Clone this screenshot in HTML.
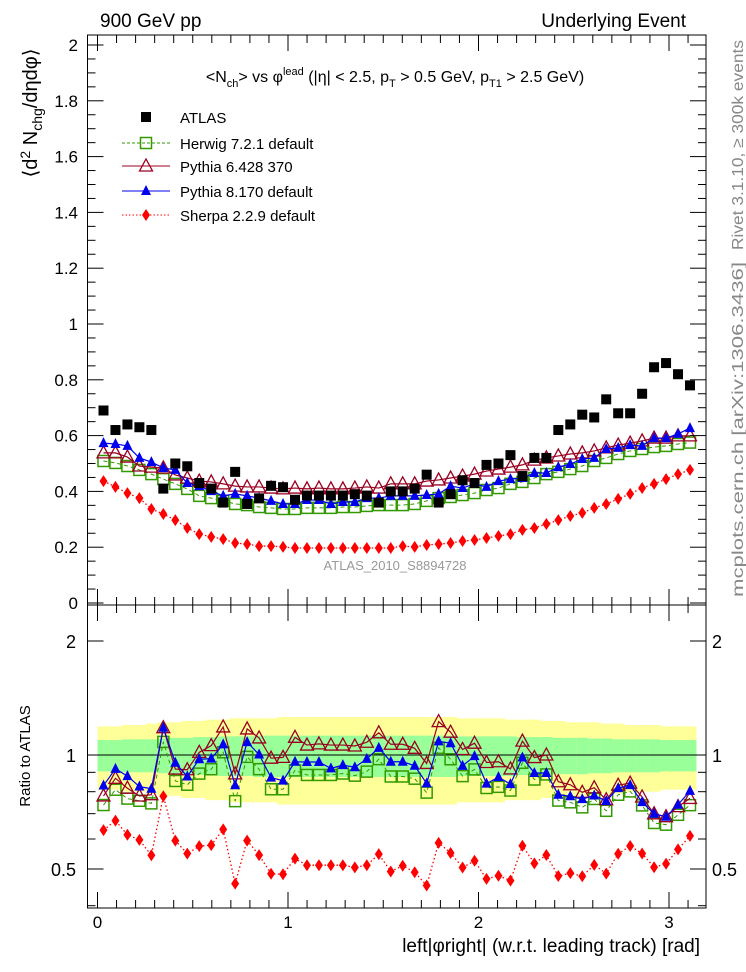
<!DOCTYPE html>
<html><head><meta charset="utf-8"><style>
body{margin:0;background:#fff}
svg{display:block;font-family:"Liberation Sans",sans-serif}
</style></head><body>
<svg id="c" width="746" height="972" viewBox="0 0 746 972" xmlns="http://www.w3.org/2000/svg">
<text x="100" y="27" font-size="19">900 GeV pp</text>
<text x="686" y="27" font-size="19" text-anchor="end">Underlying Event</text>
<text x="395" y="82" font-size="16" text-anchor="middle">&lt;N<tspan font-size="11" dy="5">ch</tspan><tspan dy="-5">&gt; vs φ</tspan><tspan font-size="11" dy="-7">lead</tspan><tspan dy="7"> (|η| &lt; 2.5, p</tspan><tspan font-size="11" dy="5">T</tspan><tspan dy="-5"> &gt; 0.5 GeV, p</tspan><tspan font-size="11" dy="5">T1</tspan><tspan dy="-5"> &gt; 2.5 GeV)</tspan></text>
<text transform="translate(37,113) rotate(-90)" font-size="20" text-anchor="middle">⟨d<tspan font-size="14" dy="-7">2</tspan><tspan dy="7"> N</tspan><tspan font-size="14" dy="5">chg</tspan><tspan dy="-5">/dηdφ⟩</tspan></text>
<text transform="translate(30,756) rotate(-90)" font-size="15" text-anchor="middle">Ratio to ATLAS</text>
<text transform="translate(743,250) rotate(-90)" font-size="16" fill="#888" textLength="210" lengthAdjust="spacingAndGlyphs">Rivet 3.1.10, ≥ 300k events</text>
<text transform="translate(743,597) rotate(-90)" font-size="16" fill="#888" textLength="335" lengthAdjust="spacingAndGlyphs">mcplots.cern.ch [arXiv:1306.3436]</text>
<text x="395" y="570" font-size="13" fill="#999" text-anchor="middle">ATLAS_2010_S8894728</text>
<text x="700" y="952" font-size="19" text-anchor="end">left|φright| (w.r.t. leading track) [rad]</text>
<g id="bands"></g><g id="plot"></g><g id="axes"></g>
<g id="legend"></g>
</svg>
<script>
const atlas=[0.69,0.62,0.64,0.63,0.62,0.41,0.50,0.49,0.43,0.41,0.36,0.47,0.355,0.375,0.42,0.415,0.37,0.385,0.385,0.385,0.385,0.39,0.385,0.36,0.40,
0.40,0.41,0.46,0.36,0.39,0.44,0.43,0.495,0.50,0.53,0.455,0.52,0.52,0.62,0.64,0.675,0.665,0.73,0.68,0.68,0.75,0.845,0.86,0.82,0.78];
const herwig=[0.509,0.502,0.491,0.477,0.462,0.444,0.427,0.409,0.384,0.376,0.366,0.355,0.351,0.344,0.341,0.337,0.337,0.341,0.341,0.341,0.344,0.344,0.348,0.351,0.351,
0.351,0.355,0.366,0.376,0.380,0.387,0.394,0.405,0.412,0.427,0.434,0.448,0.462,0.470,0.480,0.491,0.509,0.520,0.534,0.545,0.552,0.559,0.563,0.570,0.575];
const pythia6=[0.538,0.538,0.523,0.491,0.487,0.484,0.459,0.448,0.437,0.434,0.427,0.419,0.416,0.416,0.412,0.409,0.412,0.409,0.412,0.409,0.409,0.412,0.416,0.412,0.427,
0.427,0.427,0.437,0.441,0.448,0.455,0.462,0.473,0.480,0.487,0.495,0.512,0.520,0.527,0.534,0.538,0.545,0.556,0.566,0.573,0.581,0.591,0.591,0.599,0.599];
const pythia8=[0.573,0.570,0.563,0.520,0.505,0.484,0.477,0.430,0.419,0.401,0.384,0.391,0.384,0.376,0.366,0.355,0.355,0.369,0.369,0.355,0.362,0.362,0.376,0.376,0.384,
0.384,0.384,0.387,0.391,0.419,0.412,0.427,0.416,0.437,0.444,0.448,0.466,0.466,0.487,0.498,0.516,0.520,0.552,0.556,0.566,0.563,0.591,0.591,0.606,0.627];
const sherpa=[0.437,0.416,0.394,0.376,0.337,0.319,0.297,0.269,0.247,0.237,0.229,0.215,0.211,0.204,0.204,0.201,0.197,0.197,0.197,0.197,0.197,0.197,0.197,0.197,0.197,
0.204,0.201,0.208,0.211,0.215,0.222,0.226,0.233,0.240,0.247,0.262,0.269,0.283,0.297,0.312,0.323,0.341,0.355,0.373,0.391,0.412,0.427,0.444,0.462,0.477];
const statErr=[0.095,0.095,0.1,0.1,0.1,0.105,0.11,0.11,0.115,0.115,0.12,0.12,0.12,0.125,0.125,0.125,0.125,0.125,0.125,0.125,0.125,0.125,0.125,0.125,0.125,
0.125,0.125,0.125,0.125,0.125,0.12,0.12,0.12,0.12,0.12,0.115,0.115,0.115,0.11,0.11,0.11,0.105,0.105,0.1,0.1,0.1,0.1,0.095,0.095,0.095];
const totErr=[0.19,0.19,0.2,0.2,0.21,0.22,0.22,0.23,0.23,0.24,0.24,0.25,0.25,0.25,0.25,0.26,0.26,0.26,0.26,0.26,0.26,0.26,0.26,0.26,0.26,
0.26,0.26,0.26,0.26,0.26,0.25,0.25,0.25,0.25,0.24,0.24,0.24,0.23,0.23,0.22,0.22,0.22,0.21,0.21,0.2,0.2,0.2,0.19,0.19,0.19];
const xTicks=[0,1,2,3];
const yTicks=[0,0.2,0.4,0.6,0.8,1,1.2,1.4,1.6,1.8,2];
const rTicks=[0.5,1,2];

const NS="http://www.w3.org/2000/svg";
const L=87.5,R=706,T=35,M=605,B=908;
const X=v=>97.5+v*190.5;
const Y=v=>603-v*279;
const RY=r=>755-Math.log2(r)*114;
const N=atlas.length, bw=Math.PI/N;
const cx=i=>X((i+0.5)*bw);
function mk(tag,attrs,parent){const e=document.createElementNS(NS,tag);for(const k in attrs)e.setAttribute(k,attrs[k]);document.getElementById(parent).appendChild(e);return e;}

for(let i=0;i<N;i++){
  const x0=X(i*bw),x1=X((i+1)*bw);
  let e=mk('rect',{x:x0,y:RY(1+totErr[i]),width:x1-x0+0.5,height:RY(1-totErr[i])-RY(1+totErr[i]),fill:'#ffff99'},'bands');
  
  
  e=mk('rect',{x:x0,y:RY(1+statErr[i]),width:x1-x0+0.5,height:RY(1-statErr[i])-RY(1+statErr[i]),fill:'#99ff99'},'bands');
  
  
}
let one=mk('line',{x1:L,x2:R,y1:RY(1),y2:RY(1),stroke:'#000','stroke-width':1},'bands');



function marker(type,x,y,col,parent){
  let e;
  if(type==='sq') e=mk('rect',{x:x-5,y:y-5,width:10,height:10,fill:col},parent);
  else if(type==='osq') e=mk('rect',{x:x-5.5,y:y-5.5,width:11,height:11,fill:'none',stroke:col,'stroke-width':1.5},parent);
  else if(type==='otri') e=mk('polygon',{points:`${x},${y-7} ${x-6.5},${y+5} ${x+6.5},${y+5}`,fill:'none',stroke:col,'stroke-width':1.3},parent);
  else if(type==='tri') e=mk('polygon',{points:`${x},${y-6} ${x-5},${y+4} ${x+5},${y+4}`,fill:col},parent);
  else e=mk('polygon',{points:`${x},${y-6} ${x-4},${y} ${x},${y+6} ${x+4},${y}`,fill:col},parent);
  return e;
}
const series=[
 {name:'herwig',data:herwig,col:'#339900',type:'osq',dash:'4,3',w:1},
 {name:'pythia6',data:pythia6,col:'#990022',type:'otri',dash:'',w:1.2},
 {name:'pythia8',data:pythia8,col:'#0000ee',type:'tri',dash:'',w:1.2},
 {name:'sherpa',data:sherpa,col:'#ff0000',type:'dia',dash:'1.5,2.5',w:1.3}
];
series.forEach(s=>{
  const pts=s.data.map((v,i)=>cx(i)+','+Y(v)).join(' ');
  let l=mk('polyline',{points:pts,fill:'none',stroke:s.col,'stroke-width':s.w,'stroke-dasharray':s.dash},'plot');
  
  
  const rp=s.data.map((v,i)=>cx(i)+','+RY(v/atlas[i])).join(' ');
  l=mk('polyline',{points:rp,fill:'none',stroke:s.col,'stroke-width':s.w,'stroke-dasharray':s.dash},'plot');
  
  
  s.data.forEach((v,i)=>{
    let m=marker(s.type,cx(i),Y(v),s.col,'plot');
    
    
    const r=v/atlas[i];
    if(RY(r)>M && RY(r)<B){
      m=marker(s.type,cx(i),RY(r),s.col,'plot');
      
      
    }
  });
});
atlas.forEach((v,i)=>{
  const m=marker('sq',cx(i),Y(v),'#000','plot');
  
  
});

function ln(x1,y1,x2,y2,name){const e=mk('line',{x1,y1,x2,y2,stroke:'#000','stroke-width':1},'axes');return e;}
let fr=mk('rect',{x:L,y:T,width:R-L,height:M-T,fill:'none',stroke:'#000','stroke-width':1},'axes');


fr=mk('rect',{x:L,y:M,width:R-L,height:B-M,fill:'none',stroke:'#000','stroke-width':1},'axes');


for(let k=0;k<=31;k++){
  const v=k/10,x=X(v),len=(k%10===0)?16:8;
  ln(x,M,x,M-len,'x-tick');ln(x,T,x,T+len,'x-tick');
  ln(x,B,x,B-len,'x-tick');ln(x,M,x,M+len,'x-tick');
}
xTicks.forEach(v=>{const t=mk('text',{x:X(v),y:928,'font-size':17,'text-anchor':'middle'},'axes');t.textContent=v;
  });
for(let k=0;k<=40;k++){
  const v=k*0.05,y=Y(v),len=(k%4===0)?16:8;
  ln(L,y,L+len,y,'y-tick');ln(R,y,R-len,y,'y-tick');
}
yTicks.forEach(v=>{const t=mk('text',{x:78,y:Y(v)+6,'font-size':17,'text-anchor':'end'},'axes');t.textContent=v;
  });
[0.4,0.5,0.6,0.7,0.8,0.9,1,2].forEach(r=>{const y=RY(r),len=(r===0.5||r===1||r===2)?16:8;ln(L,y,L+len,y,'ratio-tick');ln(R,y,R-len,y,'ratio-tick');});
rTicks.forEach(r=>{
  let t=mk('text',{x:76,y:RY(r)+7,'font-size':18,'text-anchor':'end'},'axes');t.textContent=r;
  
  t=mk('text',{x:712,y:RY(r)+7,'font-size':18,'text-anchor':'start'},'axes');t.textContent=r;
  
});

const leg=[['ATLAS','sq','#000','',117],['Herwig 7.2.1 default','osq','#339900','3,2',143],['Pythia 6.428 370','otri','#990022','',166],['Pythia 8.170 default','tri','#0000ee','',191],['Sherpa 2.2.9 default','dia','#ff0000','1.5,2',215]];
leg.forEach(([lab,type,col,dash,y],i)=>{
  if(i>0){const l=mk('line',{x1:122,x2:170,y1:y,y2:y,stroke:col,'stroke-width':1,'stroke-dasharray':dash},'legend');
    }
  const m=marker(type,146,y,col,'legend');
  
  const t=mk('text',{x:180,y:y+6,'font-size':15},'legend');t.textContent=lab;
  
});
</script>
</body></html>
